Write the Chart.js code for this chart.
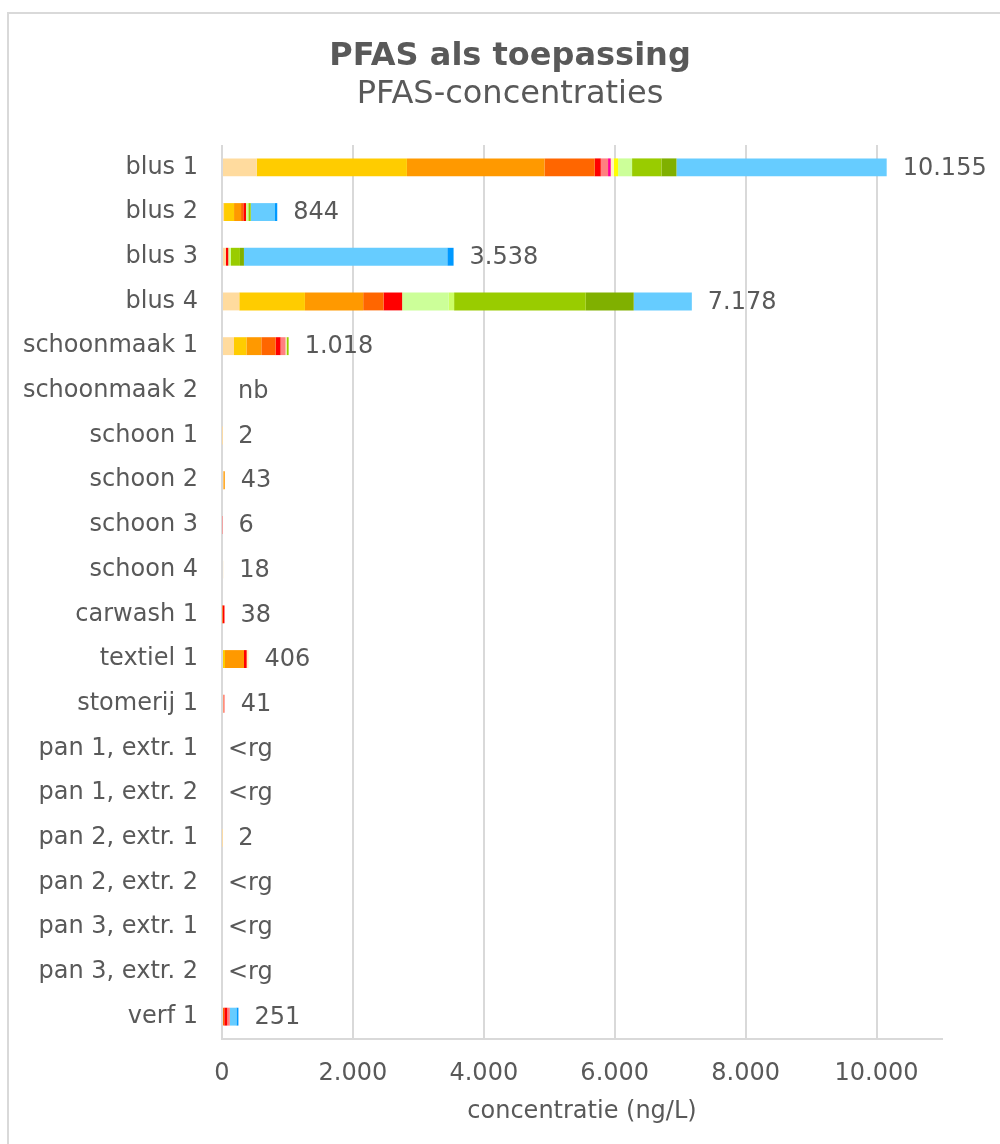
<!DOCTYPE html>
<html>
<head>
<meta charset="utf-8">
<title>PFAS als toepassing</title>
<script src="https://cdn.jsdelivr.net/npm/chart.js@4.4.1/dist/chart.umd.min.js"></script>
<style>
    html, body { margin: 0; padding: 0; background: #fff; }
    #wrap { width: 1000px; height: 1144px; }
</style>
</head>
<body>
<div id="wrap"><canvas id="chart" width="1000" height="1144"></canvas></div>
<script>
const categories = [
    "blus 1", "blus 2", "blus 3", "blus 4", "schoonmaak 1", "schoonmaak 2",
    "schoon 1", "schoon 2", "schoon 3", "schoon 4", "carwash 1", "textiel 1",
    "stomerij 1", "pan 1, extr. 1", "pan 1, extr. 2", "pan 2, extr. 1",
    "pan 2, extr. 2", "pan 3, extr. 1", "pan 3, extr. 2", "verf 1"
];

// label printed behind each bar
const valueLabels = [
    "10.155", "844", "3.538", "7.178", "1.018", "nb", "2", "43", "6", "18",
    "38", "406", "41", "<rg", "<rg", "2", "<rg", "<rg", "<rg", "251"
];

// one array per component, in stack order (ng/L)
const comp01 = [530, 31, 61, 264, 183, 0, 2, 20, 0, 18, 0, 0, 0, 0, 0, 2, 0, 0, 0, 0];
const comp02 = [2295, 153, 0, 1003, 190, 0, 0, 0, 0, 0, 0, 46, 0, 0, 0, 0, 0, 0, 0, 0];
const comp03 = [2102, 107, 0, 890, 228, 0, 0, 23, 0, 0, 8, 290, 0, 0, 0, 0, 0, 0, 0, 0];
const comp04 = [768, 35, 0, 311, 218, 0, 0, 0, 0, 0, 0, 0, 20, 0, 0, 0, 0, 0, 0, 35];
const comp05 = [92, 41, 35, 284, 76, 0, 0, 0, 0, 0, 30, 41, 0, 0, 0, 0, 0, 0, 0, 45];
const comp06 = [111, 0, 0, 0, 76, 0, 0, 0, 6, 0, 0, 0, 21, 0, 0, 0, 0, 0, 0, 40];
const comp07 = [41, 0, 0, 0, 0, 0, 0, 0, 0, 0, 0, 0, 0, 0, 0, 0, 0, 0, 0, 0];
const comp08 = [46, 0, 0, 0, 15, 0, 0, 0, 0, 0, 0, 29, 0, 0, 0, 0, 0, 0, 0, 0];
const comp09 = [66, 0, 0, 0, 0, 0, 0, 0, 0, 0, 0, 0, 0, 0, 0, 0, 0, 0, 0, 0];
const comp10 = [214, 35, 41, 713, 0, 0, 0, 0, 0, 0, 0, 0, 0, 0, 0, 0, 0, 0, 0, 0];
const comp11 = [0, 0, 0, 81, 0, 0, 0, 0, 0, 0, 0, 0, 0, 0, 0, 0, 0, 0, 0, 0];
const comp12 = [449, 37, 137, 2011, 32, 0, 0, 0, 0, 0, 0, 0, 0, 0, 0, 0, 0, 0, 0, 0];
const comp13 = [229, 0, 61, 733, 0, 0, 0, 0, 0, 0, 0, 0, 0, 0, 0, 0, 0, 0, 0, 0];
const comp14 = [3212, 371, 3107, 888, 0, 0, 0, 0, 0, 0, 0, 0, 0, 0, 0, 0, 0, 0, 0, 100];
const comp15 = [0, 34, 96, 0, 0, 0, 0, 0, 0, 0, 0, 0, 0, 0, 0, 0, 0, 0, 0, 31];

const series = [comp01, comp02, comp03, comp04, comp05, comp06, comp07, comp08,
    comp09, comp10, comp11, comp12, comp13, comp14, comp15];
const colors = [
    "#FFDB9E", "#FFCC00", "#FF9900", "#FF6600", "#FF0000", "#FF8080", "#FF0099",
    "#FFF5C0", "#FFFF00", "#CCFF99", "#CCFF66", "#99CC00", "#80B000", "#66CCFF", "#0099FF"
];

const xTicks = [0, 2000, 4000, 6000, 8000, 10000];
const xMax = 11000;

const textColor = "#595959";
const lineColor = "#D9D9D9";
const fontFamily = "'DejaVu Sans', Verdana, sans-serif";

const dotted = (v) => String(v).replace(/\B(?=(\d{3})+(?!\d))/g, ".");

// frame + titles
const decor = {
    id: "decor",
    beforeDraw(chart) {
        const ctx = chart.ctx;
        ctx.save();
        ctx.fillStyle = "#fff";
        ctx.fillRect(0, 0, chart.width, chart.height);
        ctx.strokeStyle = lineColor;
        ctx.lineWidth = 2;
        ctx.strokeRect(8, 13, chart.width + 20, chart.height + 20);
        ctx.restore();
    },
    afterDraw(chart) {
        const ctx = chart.ctx;
        ctx.save();
        ctx.fillStyle = textColor;
        ctx.textAlign = "center";
        ctx.textBaseline = "middle";
        ctx.font = "bold 32px " + fontFamily;
        ctx.fillText("PFAS als toepassing", 510, 57);
        ctx.font = "32px " + fontFamily;
        ctx.fillText("PFAS-concentraties", 510, 95);
        ctx.restore();
    }
};

// totals at the end of every stack
const totals = {
    id: "totals",
    afterDatasetsDraw(chart) {
        const ctx = chart.ctx;
        const x = chart.scales.x;
        const y = chart.scales.y;
        ctx.save();
        ctx.fillStyle = textColor;
        ctx.font = "24px " + fontFamily;
        ctx.textAlign = "left";
        ctx.textBaseline = "middle";
        categories.forEach((cat, i) => {
            const sum = series.reduce((acc, s) => acc + s[i], 0);
            const label = valueLabels[i];
            const gap = label === "<rg" ? 6 : 16;
            ctx.fillText(label, x.getPixelForValue(sum) + gap, y.getPixelForValue(i) + 1);
        });
        ctx.restore();
    }
};

new Chart(document.getElementById("chart"), {
    type: "bar",
    data: {
        labels: categories,
        datasets: series.map((values, index) => ({
            label: "component " + (index + 1),
            data: values,
            backgroundColor: colors[index],
            borderWidth: 0,
            categoryPercentage: 1,
            barPercentage: 0.4,
        })),
    },
    options: {
        indexAxis: "y",
        responsive: false,
        animation: false,
        layout: {
            padding: { top: 145, right: 58, bottom: 18, left: 0 },
        },
        scales: {
            x: {
                stacked: true,
                min: 0,
                max: xMax,
                afterBuildTicks: (scale) => {
                    scale.ticks = xTicks.map(v => ({ value: v }));
                },
                afterFit: (scale) => { scale.height = 87; },
                ticks: {
                    padding: 20,
                    color: textColor,
                    font: { family: fontFamily, size: 24 },
                    maxRotation: 0,
                    autoSkip: false,
                    callback: (v) => dotted(v),
                },
                grid: {
                    color: lineColor,
                    lineWidth: 2,
                    drawTicks: false,
                },
                border: { display: true, color: lineColor, width: 2 },
                title: {
                    display: true,
                    text: "concentratie (ng/L)",
                    color: textColor,
                    font: { family: fontFamily, size: 24 },
                    padding: { top: 0, bottom: 0 },
                },
            },
            y: {
                stacked: true,
                afterFit: (scale) => { scale.width = 222; },
                ticks: {
                    padding: 24,
                    color: textColor,
                    font: { family: fontFamily, size: 24 },
                    autoSkip: false,
                },
                grid: { display: false, drawTicks: false },
                border: { display: false },
            },
        },
        plugins: {
            legend: { display: false },
            title: { display: false },
            tooltip: { enabled: false },
        },
    },
    plugins: [decor, totals],
});
</script>
</body>
</html>
